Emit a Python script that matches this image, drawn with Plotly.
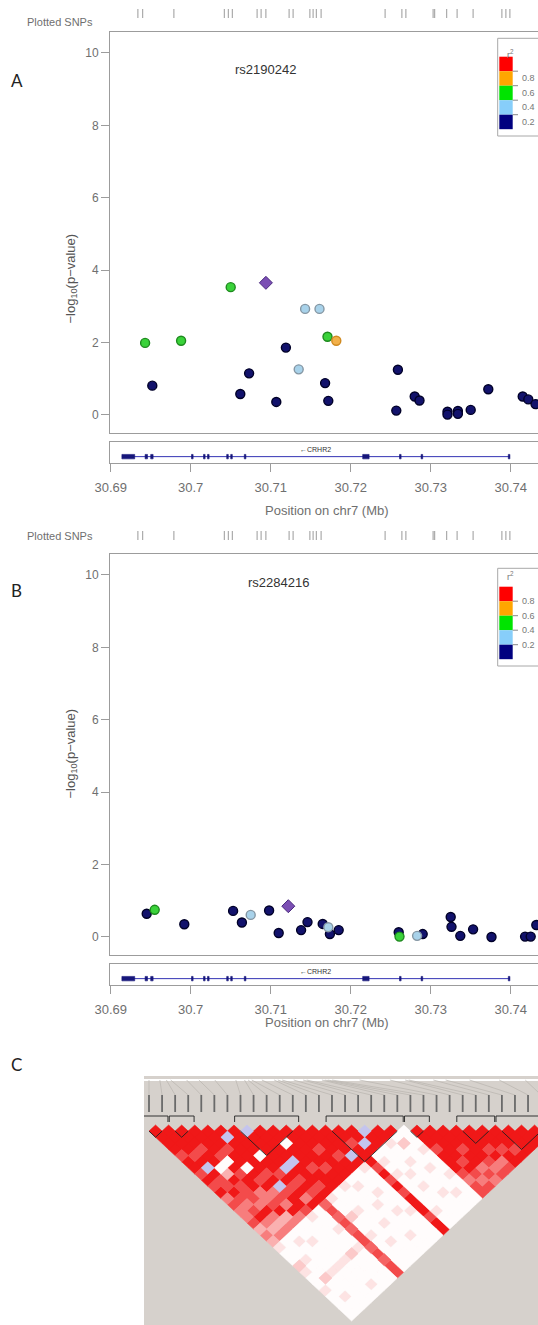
import plotly.graph_objects as go

W, H = 538, 1325
OFF = 0  # body margin is reset to 0 in the page


def fx(p):
    return (p - OFF) / W


def fy(p):
    return 1 - (p - OFF) / H


FONT = "Liberation Sans, Arial, sans-serif"
TXT = "#6f6f6f"
LINE = "#9c9c9c"

# ---------------- data ----------------
plotted_snps = [30.6934, 30.6940, 30.6979, 30.7042, 30.7047, 30.7052, 30.7083,
                30.7088, 30.7094, 30.7123, 30.7128, 30.7149, 30.7153, 30.7157,
                30.7163, 30.7243, 30.7264, 30.7269, 30.7303, 30.7305, 30.7320,
                30.7333, 30.7353, 30.7389, 30.7394, 30.7399]

a_pos = [30.6943, 30.6952, 30.6988, 30.7050, 30.7062, 30.7073, 30.7107, 30.7119,
         30.7135, 30.7143, 30.7161, 30.7168, 30.7171, 30.7172, 30.7182, 30.7257,
         30.7259, 30.7280, 30.7286, 30.7321, 30.7321, 30.7334, 30.7334, 30.7350,
         30.7372, 30.7415, 30.7422, 30.7431]
a_logp = [1.99, 0.81, 2.05, 3.53, 0.58, 1.15, 0.36, 1.86, 1.26, 2.93, 2.93, 0.88,
          2.16, 0.39, 2.05, 0.12, 1.25, 0.51, 0.40, 0.09, 0.01, 0.11, 0.03, 0.14,
          0.71, 0.51, 0.43, 0.30]
a_r2 = [0.45, 0.05, 0.45, 0.50, 0.08, 0.10, 0.05, 0.12, 0.30, 0.30, 0.32, 0.10,
        0.50, 0.06, 0.68, 0.02, 0.10, 0.04, 0.05, 0.01, 0.02, 0.03, 0.01, 0.02,
        0.05, 0.03, 0.04, 0.02]
a_lead = ("rs2190242", 30.7094, 3.65)

b_pos = [30.6945, 30.6955, 30.6992, 30.7053, 30.7064, 30.7075, 30.7098, 30.7110,
         30.7138, 30.7146, 30.7165, 30.7172, 30.7174, 30.7185, 30.7260, 30.7261,
         30.7283, 30.7290, 30.7325, 30.7326, 30.7337, 30.7353, 30.7376, 30.7418,
         30.7425, 30.7432]
b_logp = [0.64, 0.75, 0.35, 0.72, 0.40, 0.61, 0.73, 0.11, 0.19, 0.41, 0.36, 0.27,
          0.08, 0.19, 0.13, 0.01, 0.03, 0.08, 0.55, 0.28, 0.03, 0.21, 0.00, 0.01,
          0.01, 0.33]
b_r2 = [0.10, 0.45, 0.05, 0.10, 0.08, 0.30, 0.12, 0.04, 0.06, 0.10, 0.10, 0.30,
        0.05, 0.08, 0.10, 0.42, 0.28, 0.05, 0.03, 0.04, 0.02, 0.03, 0.01, 0.02,
        0.02, 0.03]
b_lead = ("rs2284216", 30.7122, 0.85)

gene_name = "CRHR2"
gene_start, gene_end = 30.6914, 30.7399
exon_start = [30.6914, 30.6943, 30.6950, 30.7001, 30.7016, 30.7021, 30.7045,
              30.7050, 30.7067, 30.7215, 30.7261, 30.7288, 30.7397]
exon_end = [30.6930, 30.6946, 30.6953, 30.7003, 30.7018, 30.7023, 30.7047,
            30.7052, 30.7069, 30.7223, 30.7263, 30.7290, 30.7399]

x_ticks = [30.69, 30.70, 30.71, 30.72, 30.73, 30.74]
x_tick_text = ["30.69", "30.7", "30.71", "30.72", "30.73", "30.74"]
y_ticks = [0, 2, 4, 6, 8, 10]

r2_breaks = [0.2, 0.4, 0.6, 0.8]
r2_fill = ["#12126c", "#a8d2ea", "#3ad23a", "#f2b04a", "#ff1a1a"]
r2_edge = ["#000028", "#8597a4", "#1e8a1e", "#d08a20", "#a00000"]
legend_colors = ["#ff0000", "#ffa500", "#00e400", "#87cefa", "#000080"]
legend_labels = ["0.8", "0.6", "0.4", "0.2"]

# LD (Haploview) matrix: row i holds pairs (i, j) for j = i+1 .. 31
# digits 0..9 = strength (9 = bright red), 'b' = blue cell
ld_rows = [
    "9999799797957557353" + "100210010000",
    "999979b97797579535" + "000100200100",
    "99979903977759535" + "010000100000",
    "9999709799557935" + "001000100000",
    "999799097957595" + "000000100010",
    "9b9999979b7997" + "100000200000",
    "9999099797959" + "000100100000",
    "b99999b97979" + "676767767677",
    "99999b99979" + "100200100000",
    "9909997999" + "000100001000",
    "999999799" + "100000100000",
    "99979999" + "010010000100",
    "9999799" + "000100100000",
    "9999b9" + "100000010000",
    "99799" + "979797999799",
    "99b9" + "010100000100",
    "b99" + "000010100000",
    "99" + "100100001000",
    "9" + "020001000100",
    "000100010000",
    "99979997577",
    "9999979757",
    "999799575",
    "99999757",
    "9997957",
    "999799",
    "99979",
    "9999",
    "999",
    "99",
    "9",
]
ld_snp_pos = [30.6910, 30.6925, 30.6934, 30.6940, 30.6962, 30.6979, 30.7001, 30.7030,
              30.7042, 30.7047, 30.7052, 30.7066, 30.7083, 30.7088, 30.7094, 30.7110,
              30.7123, 30.7128, 30.7149, 30.7153, 30.7157, 30.7163, 30.7201, 30.7243,
              30.7264, 30.7269, 30.7303, 30.7320, 30.7353, 30.7394, 30.7430, 30.7470]
ld_blocks = [(0, 1), (2, 3), (7, 11), (14, 19), (20, 21), (24, 26), (27, 30)]

RIGHT_PX = W + OFF  # screen x of the figure's right edge
X_RANGE = [30.69 + (110 - 110.7) / 8000, 30.69 + (RIGHT_PX - 110.7) / 8000]
Y_RANGE = [-0.49, 10.57]

fig = go.Figure()
L = dict(width=W, height=H, margin=dict(l=0, r=0, t=0, b=0, autoexpand=False),
         paper_bgcolor="white", plot_bgcolor="white", showlegend=False,
         font=dict(family=FONT, color=TXT))
shapes, annos = [], []


def axname(letter, k):
    ref = letter if k == 1 else f"{letter}{k}"
    key = f"{letter}axis" if k == 1 else f"{letter}axis{k}"
    return ref, key


def r2_class(r):
    return sum(1 for b in r2_breaks if r >= b)


def locus_panel(k, off, pos, logp, r2, lead, label_px, leg_off, letter, letter_y):
    xm, xmk = axname("x", k)
    ym, ymk = axname("y", k)
    xg, xgk = axname("x", k + 1)
    yg, ygk = axname("y", k + 1)
    xr, xrk = axname("x", k + 2)
    yr, yrk = axname("y", k + 2)
    dom_x = [fx(110), 1]
    L[xmk] = dict(domain=dom_x, range=X_RANGE, anchor=ym, showline=True, mirror=True,
                  linecolor=LINE, linewidth=1, ticks="", showticklabels=False,
                  showgrid=False, zeroline=False)
    L[ymk] = dict(domain=[fy(432.7 + off), fy(32.3 + off)], range=Y_RANGE, anchor=xm,
                  showline=True, linecolor=LINE, linewidth=1, ticks="outside", ticklen=8,
                  tickcolor=LINE, tickvals=y_ticks,
                  tickfont=dict(size=12, color=TXT, family=FONT),
                  showgrid=False, zeroline=False)
    L[xgk] = dict(domain=dom_x, range=X_RANGE, anchor=yg, showline=True, mirror=True,
                  linecolor=LINE, linewidth=1, ticks="outside", ticklen=8, tickcolor=LINE,
                  tickvals=x_ticks, ticktext=x_tick_text,
                  tickfont=dict(size=13, color=TXT, family=FONT), ticklabelstandoff=5,
                  showgrid=False, zeroline=False)
    L[ygk] = dict(domain=[fy(462.5 + off), fy(442.3 + off)], range=[0, 1], anchor=xg,
                  showline=True, linecolor=LINE, linewidth=1, ticks="",
                  showticklabels=False, showgrid=False, zeroline=False)
    L[xrk] = dict(domain=dom_x, range=X_RANGE, anchor=yr, visible=False)
    L[yrk] = dict(domain=[fy(18 + off), fy(9 + off)], range=[0, 1], anchor=xr, visible=False)

    # rug of plotted SNPs
    rx, ry = [], []
    for p in plotted_snps:
        rx += [p, p, None]
        ry += [0, 1, None]
    fig.add_trace(go.Scatter(x=rx, y=ry, mode="lines", line=dict(color="#9a9a9a", width=1),
                             xaxis=xr, yaxis=yr, hoverinfo="skip"))

    # association points by r2 class
    for c in range(5):
        idx = [i for i in range(len(pos)) if r2_class(r2[i]) == c]
        if not idx:
            continue
        fig.add_trace(go.Scatter(
            x=[pos[i] for i in idx], y=[logp[i] for i in idx], mode="markers",
            marker=dict(size=9, color=r2_fill[c], line=dict(color=r2_edge[c], width=1.4)),
            xaxis=xm, yaxis=ym, hoverinfo="skip"))
    name, lp, lv = lead
    fig.add_trace(go.Scatter(x=[lp], y=[lv], mode="markers",
                             marker=dict(symbol="diamond", size=10, color="#7b4fb4",
                                         line=dict(color="#4a2a7e", width=1)),
                             xaxis=xm, yaxis=ym, hoverinfo="skip"))

    # gene track
    fig.add_trace(go.Scatter(x=[gene_start, gene_end], y=[0.29, 0.29], mode="lines",
                             line=dict(color="#3434b4", width=1), xaxis=xg, yaxis=yg,
                             hoverinfo="skip"))
    for s, e in zip(exon_start, exon_end):
        shapes.append(dict(type="rect", xref=xg, yref=yg, x0=s, x1=e, y0=0.18, y1=0.40,
                           fillcolor="#16167a", line=dict(width=0.6, color="#16167a")))
    annos.append(dict(xref=xg, yref=yg, x=30.71566, y=0.66, text="\u2190" + gene_name,
                      showarrow=False, font=dict(size=7, color="#333333", family=FONT)))

    # texts
    annos.append(dict(xref="paper", yref="paper", x=fx(label_px), y=fy(60 + off), text=name,
                      showarrow=False, font=dict(size=13, color="#333333", family=FONT)))
    annos.append(dict(xref="paper", yref="paper", x=fx(25), y=fy(14 + off),
                      text="Plotted SNPs", xanchor="left", showarrow=False,
                      font=dict(size=11, color=TXT, family=FONT)))
    annos.append(dict(xref="paper", yref="paper", x=fx(60), y=fy(232 + off),
                      text="\u2212log<sub>10</sub>(p\u2212value)", textangle=-90,
                      showarrow=False, font=dict(size=13, color="#555555", family=FONT)))
    annos.append(dict(xref="paper", yref="paper", x=fx(327), y=fy(510 + off),
                      text="Position on chr7 (Mb)", showarrow=False,
                      font=dict(size=13, color=TXT, family=FONT)))
    annos.append(dict(xref="paper", yref="paper", x=fx(9), y=fy(letter_y), text=letter,
                      xanchor="left", showarrow=False,
                      font=dict(size=17, color="#222222", family="Lato, sans-serif")))

    # r2 legend
    top = 38.3 + leg_off
    shapes.append(dict(type="rect", xref="paper", yref="paper", x0=fx(497.7), x1=1.02,
                       y0=fy(top + 97.7), y1=fy(top), fillcolor="white",
                       line=dict(color="#a8a8a8", width=1)))
    h = 14.5
    y0 = top + 18.4
    for c, col in enumerate(legend_colors):
        shapes.append(dict(type="rect", xref="paper", yref="paper", x0=fx(499.3), x1=fx(512.7),
                           y0=fy(y0 + (c + 1) * h), y1=fy(y0 + c * h), fillcolor=col,
                           line=dict(width=0)))
    for c, lab in enumerate(legend_labels):
        yy = y0 + (c + 1) * h
        shapes.append(dict(type="line", xref="paper", yref="paper", x0=fx(512.7), x1=fx(518),
                           y0=fy(yy), y1=fy(yy), line=dict(color="#888888", width=1)))
        annos.append(dict(xref="paper", yref="paper", x=fx(519.5), y=fy(yy), text=lab,
                          xanchor="left", showarrow=False,
                          font=dict(size=9, color="#777777", family=FONT)))
    annos.append(dict(xref="paper", yref="paper", x=fx(516), y=fy(top + 8), text="r<sup>2</sup>",
                      showarrow=False, font=dict(size=9, color="#777777", family=FONT)))


locus_panel(1, 0, a_pos, a_logp, a_r2, a_lead, 265, 0, "A", 68)
locus_panel(4, 522, b_pos, b_logp, b_r2, b_lead, 278, 530, "B", 590)

# ---------------- panel C: LD heatmap ----------------
X0PX, SPX, YTOP, SPY = 149.0, 13.07, 1125.0, 12.25
BOTTOM_PX = H + OFF
L["xaxis7"] = dict(domain=[fx(144), 1], range=[(144 - X0PX) / SPX, (RIGHT_PX - X0PX) / SPX],
                   anchor="y7", visible=False)
L["yaxis7"] = dict(domain=[0, fy(1076)],
                   range=[(BOTTOM_PX - YTOP) / SPY, (1076 - YTOP) / SPY],
                   anchor="x7", visible=False)
shapes.append(dict(type="rect", xref="paper", yref="paper", x0=fx(144), x1=1, y0=0,
                   y1=fy(1076), fillcolor="#d6d1cc", line=dict(width=0), layer="below"))


def ld_color(ch):
    if ch == "b":
        return "rgb(196,196,238)"
    t = int(ch) / 9
    r = round(255 - 15 * t)
    g = round(252 - 228 * t)
    return f"rgb({r},{g},{g})"


n_snp = len(ld_rows) + 1
cells = {}
for i, row in enumerate(ld_rows):
    assert len(row) == n_snp - 1 - i, (i, len(row))
    for k, ch in enumerate(row):
        j = i + 1 + k
        cells.setdefault(ch, []).append((i, j))

for ch, lst in cells.items():
    xs, ys = [], []
    for i, j in lst:
        cx, cy = (i + j) / 2, (j - i) / 2
        xs += [cx, cx + 0.5, cx, cx - 0.5, cx, None]
        ys += [cy - 0.5, cy, cy + 0.5, cy, cy - 0.5, None]
    col = ld_color(ch)
    fig.add_trace(go.Scatter(x=xs, y=ys, mode="lines", fill="toself", fillcolor=col,
                             line=dict(color=col, width=0.6), xaxis="x7", yaxis="y7",
                             hoverinfo="skip"))

# header: white position line, connectors and SNP ticks
y_line, y_tick_top, y_tick_bot = (1080 - YTOP) / SPY, (1095 - YTOP) / SPY, (1112 - YTOP) / SPY
pmin, pmax = min(ld_snp_pos), max(ld_snp_pos)
fig.add_trace(go.Scatter(x=[(144 - X0PX) / SPX, (RIGHT_PX + 20 - X0PX) / SPX],
                         y=[y_line, y_line],
                         mode="lines", line=dict(color="white", width=2),
                         xaxis="x7", yaxis="y7", hoverinfo="skip"))
cx_, cy_ = [], []
tx_, ty_ = [], []
for i, p in enumerate(ld_snp_pos):
    px = (p - pmin) / (pmax - pmin) * (n_snp - 1)
    cx_ += [px, i, None]
    cy_ += [y_line, y_tick_top, None]
    tx_ += [i, i, None]
    ty_ += [y_tick_top, y_tick_bot, None]
fig.add_trace(go.Scatter(x=cx_, y=cy_, mode="lines", line=dict(color="#b9b4af", width=0.7),
                         xaxis="x7", yaxis="y7", hoverinfo="skip"))
fig.add_trace(go.Scatter(x=tx_, y=ty_, mode="lines", line=dict(color="#6a6a6a", width=1.8),
                         xaxis="x7", yaxis="y7", hoverinfo="skip"))

# haplotype block outlines
y_head, y_head_end = (1116 - YTOP) / SPY, (1122 - YTOP) / SPY
bx, by = [], []
for a, b in ld_blocks:
    bx += [a - 0.45, a - 0.45, b + 0.45, b + 0.45, None]
    by += [y_head_end, y_head, y_head, y_head_end, None]
    bx += [a, (a + b) / 2, b, None]
    by += [0.5, (b - a) / 2 + 0.5, 0.5, None]
fig.add_trace(go.Scatter(x=bx, y=by, mode="lines", line=dict(color="#202020", width=0.9),
                         xaxis="x7", yaxis="y7", hoverinfo="skip"))

annos.append(dict(xref="paper", yref="paper", x=fx(9), y=fy(1077), text="C", xanchor="left",
                  showarrow=False, font=dict(size=17, color="#222222", family="Lato, sans-serif")))

L["shapes"] = shapes
L["annotations"] = annos
fig.update_layout(**L)
for key in list(fig.layout.to_plotly_json().keys()):
    if key.startswith("xaxis") or key.startswith("yaxis"):
        fig.layout[key].automargin = False
fig.write_html("out.html", default_width="538px", default_height="1325px",
               config={"displayModeBar": False, "staticPlot": True},
               post_script="document.body.style.margin='0';document.body.style.overflow='hidden';")
